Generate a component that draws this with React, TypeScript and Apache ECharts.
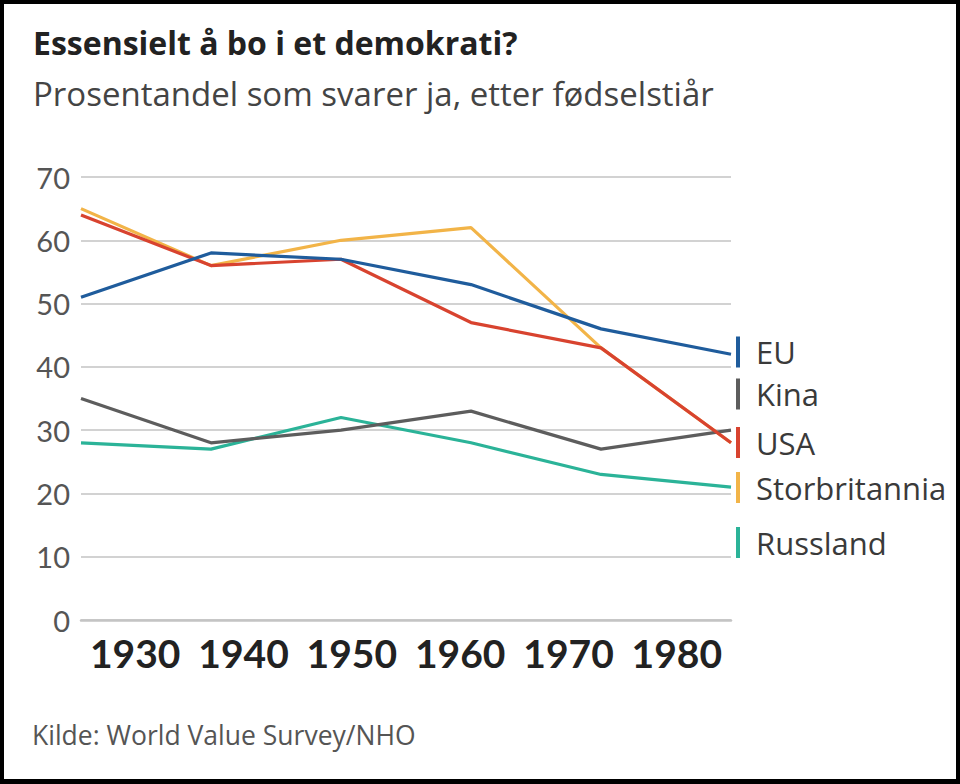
import React, { useEffect, useRef } from "react";
import * as echarts from "echarts";

// Birth-cohort positions of the data points and the decade labels shown on the axis
const cohortYears = [1925, 1937, 1949, 1961, 1973, 1985];
const yearLabels = [1930, 1940, 1950, 1960, 1970, 1980];

const seriesNames = ["EU", "Kina", "USA", "Storbritannia", "Russland"];
const euValues = [51, 58, 57, 53, 46, 42];
const kinaValues = [35, 28, 30, 33, 27, 30];
const usaValues = [64, 56, 57, 47, 43, 28];
const storbritanniaValues = [65, 56, 60, 62, 43, 28];
const russlandValues = [28, 27, 32, 28, 23, 21];

const valuesByName: Record<string, number[]> = {
  EU: euValues,
  Kina: kinaValues,
  USA: usaValues,
  Storbritannia: storbritanniaValues,
  Russland: russlandValues,
};

const colorsByName: Record<string, string> = {
  EU: "#1f5c9c",
  Kina: "#5d5d5d",
  USA: "#d8432f",
  Storbritannia: "#f2b448",
  Russland: "#2bb398",
};

// draw order (bottom first)
const drawOrder = ["Storbritannia", "Russland", "Kina", "USA", "EU"];

// layout of the hand-placed legend entries (vertical centres)
const legendCentres = [352, 394, 442.5, 487.5, 542.5];

const titleText = "Essensielt å bo i et demokrati?";
const subtitleText = "Prosentandel som svarer ja, etter fødselstiår";
const sourceText = "Kilde: World Value Survey/NHO";

const TEXT_FONT = "'Open Sans', 'Noto Sans', sans-serif";
const NUM_FONT = "Lato, 'Noto Sans', sans-serif";

export default function App() {
  const ref = useRef<HTMLDivElement>(null);

  useEffect(() => {
    if (!ref.current) return;
    const chart = echarts.init(ref.current, undefined, { renderer: "svg" });

    const series = drawOrder.map((name) => ({
      name,
      type: "line",
      data: cohortYears.map((y, i) => [y, valuesByName[name][i]]),
      symbol: "none",
      lineStyle: { color: colorsByName[name], width: 3.2 },
      itemStyle: { color: colorsByName[name] },
      emphasis: { disabled: true },
    }));

    const legends = seriesNames.map((name, i) => ({
      data: [name],
      orient: "vertical",
      left: 736,
      top: legendCentres[i] - 15.5,
      padding: 0,
      icon: "rect",
      itemWidth: 4,
      itemHeight: 31,
      selectedMode: false,
      textStyle: {
        fontSize: 31,
        color: "#3a3a3a",
        fontFamily: TEXT_FONT,
        padding: [4, 0, 0, 11],
      },
    }));

    chart.setOption({
      animation: false,
      backgroundColor: "#fff",
      title: [
        {
          text: titleText,
          left: 33,
          top: 26,
          padding: 0,
          textStyle: { fontSize: 32, fontWeight: "bold", color: "#222", fontFamily: TEXT_FONT },
        },
        {
          text: subtitleText,
          left: 33,
          top: 77,
          padding: 0,
          textStyle: { fontSize: 33, fontWeight: "normal", color: "#444", fontFamily: TEXT_FONT },
        },
        {
          text: sourceText,
          left: 32,
          top: 721,
          padding: 0,
          textStyle: { fontSize: 26.5, fontWeight: "normal", color: "#555", fontFamily: TEXT_FONT },
        },
      ],
      legend: legends,
      grid: { left: 81, right: 229, top: 177, bottom: 164, containLabel: false },
      xAxis: {
        type: "value",
        min: cohortYears[0],
        max: cohortYears[cohortYears.length - 1],
        splitLine: { show: false },
        axisTick: { show: false },
        axisLine: { show: true, lineStyle: { color: "#c4c4c4", width: 2.5 } },
        axisLabel: {
          customValues: yearLabels,
          formatter: (v: number) => String(v),
          fontSize: 39,
          fontWeight: "bold",
          color: "#222",
          fontFamily: NUM_FONT,
          margin: 13,
        },
      },
      yAxis: {
        type: "value",
        min: 0,
        max: 70,
        interval: 10,
        axisLine: { show: false },
        axisTick: { show: false },
        splitLine: { lineStyle: { color: "#d2d2d2", width: 2 } },
        axisLabel: { fontSize: 29, color: "#555", fontFamily: NUM_FONT, margin: 11 },
      },
      series,
      graphic: [
        { type: "rect", shape: { x: 0, y: 0, width: 960, height: 4 }, style: { fill: "#000" } },
        { type: "rect", shape: { x: 0, y: 0, width: 4, height: 784 }, style: { fill: "#000" } },
        { type: "rect", shape: { x: 956, y: 0, width: 4, height: 784 }, style: { fill: "#000" } },
        { type: "rect", shape: { x: 0, y: 779, width: 960, height: 5 }, style: { fill: "#000" } },
      ],
    });

    return () => chart.dispose();
  }, []);

  return (
    <div
      ref={ref}
      style={{ position: "fixed", left: 0, top: 0, width: 960, height: 784 }}
    />
  );
}
